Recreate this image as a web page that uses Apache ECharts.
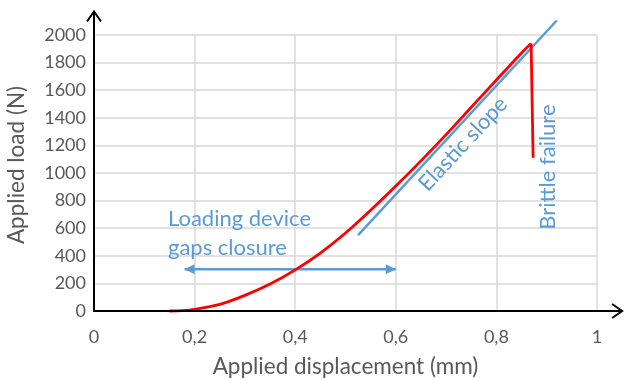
<!DOCTYPE html>
<html>
<head>
<meta charset="utf-8">
<script src="https://cdn.jsdelivr.net/npm/echarts@6/dist/echarts.min.js"></script>
<style>html,body{margin:0;padding:0;background:#fff;}#c{width:624px;height:380px;}</style>
</head>
<body>
<div id="c"></div>
<script>
// ---- data ----
const dispX = [0.15, 0.175, 0.2, 0.25, 0.3, 0.35, 0.4, 0.45, 0.5, 0.55, 0.6, 0.65, 0.7, 0.75, 0.8, 0.85, 0.869];
const loadY = [0, 3, 12, 48, 113, 195, 298, 420, 565, 730, 905, 1088, 1278, 1476, 1674, 1870, 1938];
const failureX = [0.869, 0.873];
const failureY = [1938, 1110];
const slopeX = [0.525, 0.92];
const slopeY = [550, 2105];
const gapArrowX = [0.18, 0.6];
const gapArrowY = [302, 302];
const xTickLabels = ['0', '0,2', '0,4', '0,6', '0,8', '1'];
const yTickLabels = ['0', '200', '400', '600', '800', '1000', '1200', '1400', '1600', '1800', '2000'];
const annoGaps = ['Loading device', 'gaps closure'];
const annoElastic = 'Elastic slope';
const annoBrittle = 'Brittle failure';
// anchors of annotations, in data units
const gapsAnchor = [0.147, 565];
const elasticAnchor = [0.7336, 1210];
const brittleAnchor = [0.9026, 1043];
const axisArrowEnds = { xTip: 1.05, yTip: 2170 };

const FONT = 'Lato';
const RED = '#FF0000';
const BLUE = '#5B9BD5';
const GREY = '#595959';

const pairs = (xs, ys) => xs.map((x, i) => [x, ys[i]]);

const chart = echarts.init(document.getElementById('c'), null, { renderer: 'canvas' });
chart.setOption({
  animation: false,
  backgroundColor: '#fff',
  textStyle: { fontFamily: FONT },
  grid: { left: 94, right: 27, top: 35, bottom: 69, containLabel: false, outerBoundsMode: 'none' },
  xAxis: {
    type: 'value', min: 0, max: 1, interval: 0.2,
    name: 'Applied displacement (mm)', nameLocation: 'middle', nameGap: 44,
    nameTextStyle: { fontFamily: FONT, fontSize: 22.5, color: GREY },
    axisLine: { show: true, onZero: false, lineStyle: { color: '#000', width: 2 } },
    axisTick: { show: false },
    axisLabel: { margin: 17, fontFamily: FONT, fontSize: 18, color: GREY,
      formatter: (v) => xTickLabels[Math.round(v / 0.2)] },
    splitLine: { show: true, lineStyle: { color: '#D9D9D9', width: 1.5 } }
  },
  yAxis: {
    type: 'value', min: 0, max: 2000, interval: 200,
    name: 'Applied load (N)', nameLocation: 'middle', nameGap: 66, nameRotate: 90,
    nameTextStyle: { fontFamily: FONT, fontSize: 22.5, color: GREY, padding: [0, 0, 0, 16] },
    axisLine: { show: true, lineStyle: { color: '#000', width: 2 } },
    axisTick: { show: false },
    axisLabel: { margin: 8, fontFamily: FONT, fontSize: 18, color: GREY,
      formatter: (v) => yTickLabels[Math.round(v / 200)] },
    splitLine: { show: true, lineStyle: { color: '#D9D9D9', width: 1.5 } }
  },
  series: [
    { name: 'slope', type: 'line', data: pairs(slopeX, slopeY), symbol: 'none', clip: false,
      lineStyle: { color: BLUE, width: 2.5 }, z: 3 },
    { name: 'load', type: 'line', data: pairs(dispX, loadY), symbol: 'none', smooth: 0.3, clip: false,
      lineStyle: { color: RED, width: 2.8 }, z: 4 },
    { name: 'failure', type: 'line', data: pairs(failureX, failureY), symbol: 'none', clip: false,
      lineStyle: { color: RED, width: 2.8 }, z: 4 },
    { name: 'gaps', type: 'line', data: pairs(gapArrowX, gapArrowY), symbol: 'none', clip: false,
      lineStyle: { color: BLUE, width: 2.5 }, z: 3 }
  ]
});

function px(p) { return chart.convertToPixel({ gridIndex: 0 }, p); }
const o = px([0, 0]);
const xt = px([axisArrowEnds.xTip, 0]);
const yt = px([0, axisArrowEnds.yTip]);
const a1 = px([gapArrowX[0], gapArrowY[0]]);
const a2 = px([gapArrowX[1], gapArrowY[1]]);
const gp = px(gapsAnchor), ep = px(elasticAnchor), bp = px(brittleAnchor);
const s1 = px([slopeX[0], slopeY[0]]), s2 = px([slopeX[1], slopeY[1]]);
const ang = Math.atan2(s1[1] - s2[1], s2[0] - s1[0]);
const AH = 10, AW = 5;
const annoFont = '22px ' + FONT;
chart.setOption({
  graphic: [
    { type: 'line', shape: { x1: o[0], y1: o[1], x2: xt[0], y2: xt[1] }, style: { stroke: '#000', lineWidth: 2 }, z: 10 },
    { type: 'polyline', shape: { points: [[xt[0] - 10, xt[1] - 7], [xt[0], xt[1]], [xt[0] - 10, xt[1] + 7]] }, style: { stroke: '#000', lineWidth: 2, fill: null }, z: 10 },
    { type: 'line', shape: { x1: o[0], y1: o[1], x2: yt[0], y2: yt[1] }, style: { stroke: '#000', lineWidth: 2 }, z: 10 },
    { type: 'polyline', shape: { points: [[yt[0] - 7, yt[1] + 10], [yt[0], yt[1]], [yt[0] + 7, yt[1] + 10]] }, style: { stroke: '#000', lineWidth: 2, fill: null }, z: 10 },
    { type: 'polygon', shape: { points: [[a1[0], a1[1]], [a1[0] + AH, a1[1] - AW], [a1[0] + AH, a1[1] + AW]] }, style: { fill: BLUE }, z: 10 },
    { type: 'polygon', shape: { points: [[a2[0], a2[1]], [a2[0] - AH, a2[1] - AW], [a2[0] - AH, a2[1] + AW]] }, style: { fill: BLUE }, z: 10 },
    { type: 'text', x: gp[0], y: gp[1], style: { text: annoGaps.join('\n'), fill: BLUE, font: annoFont, lineHeight: 29, textAlign: 'left', textVerticalAlign: 'middle' }, z: 10 },
    { type: 'text', x: ep[0], y: ep[1], rotation: ang, style: { text: annoElastic, fill: BLUE, font: annoFont, textAlign: 'center', textVerticalAlign: 'middle' }, z: 10 },
    { type: 'text', x: bp[0], y: bp[1], rotation: Math.PI / 2, style: { text: annoBrittle, fill: BLUE, font: annoFont, textAlign: 'center', textVerticalAlign: 'middle' }, z: 10 }
  ]
});
</script>
</body>
</html>
